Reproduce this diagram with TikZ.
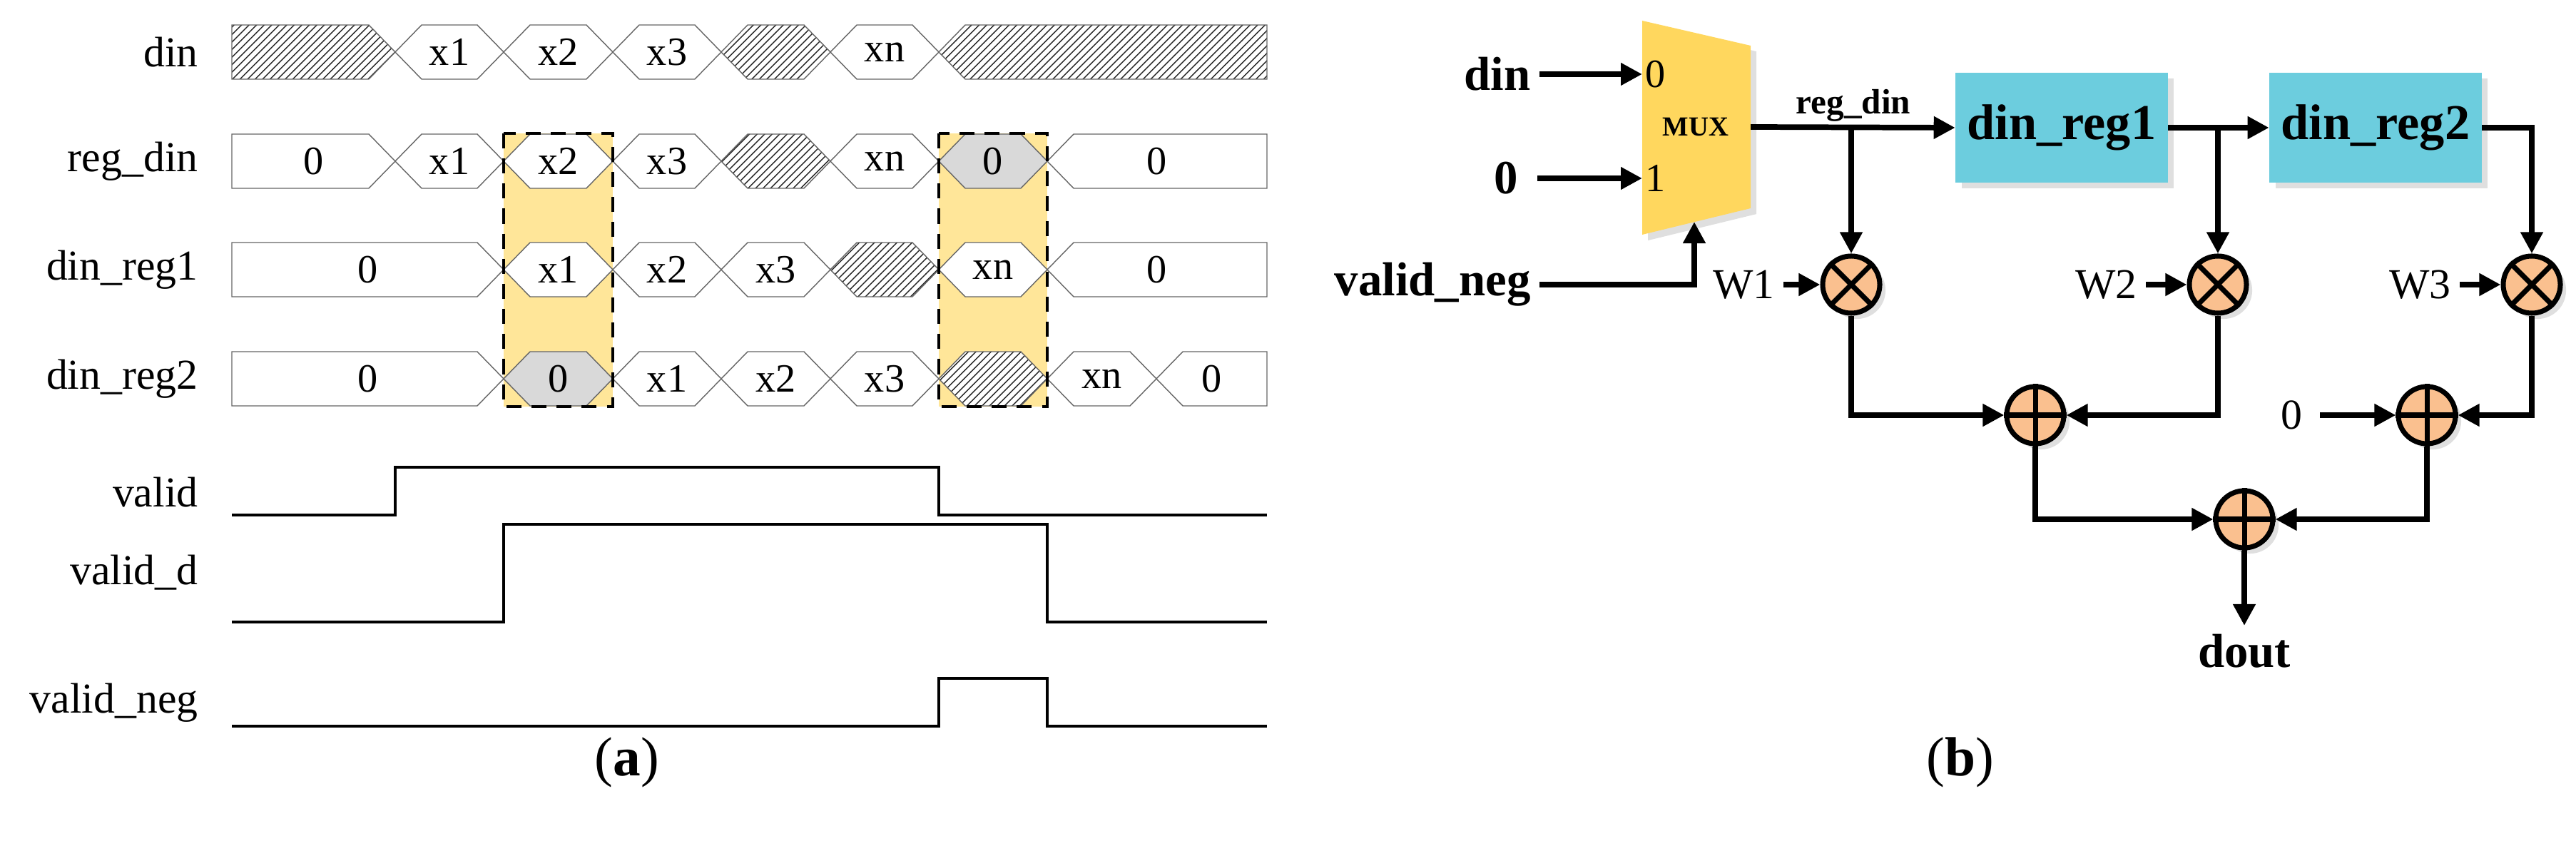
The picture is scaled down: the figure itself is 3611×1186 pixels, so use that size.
\documentclass[tikz,border=0pt]{standalone}
\usepackage{fontspec}
\setmainfont{Liberation Serif}
\usetikzlibrary{positioning,patterns,arrows.meta,shadows}
\definecolor{hl}{RGB}{255,230,153}
\definecolor{muxc}{RGB}{255,215,94}
\definecolor{regc}{RGB}{108,205,222}
\definecolor{opc}{RGB}{250,192,143}
\tikzset{
  sig/.style={font=\fontsize{17}{17}\selectfont, anchor=east},
  txt/.style={font=\fontsize{16}{16}\selectfont},
  cell/.style={draw=black!60, line width=0.4pt, fill=white},
  hatch/.style={draw=black!60, line width=0.4pt, preaction={fill=white},
    pattern=north east lines, pattern color=black!85},
  grey/.style={draw=black!60, line width=0.4pt, fill=black!15},
  wave/.style={line width=1.1pt},
  win/.style={draw, dashed, line width=1.2pt, dash pattern=on 6pt off 4pt},
  arr/.style={line width=2.2pt, -{Triangle[length=3mm,width=3mm]}},
  lbl/.style={font=\bfseries\fontsize{19}{19}\selectfont},
  wl/.style={font=\fontsize{17}{17}\selectfont},
  reg/.style={fill=regc, minimum width=2.97cm, minimum height=1.54cm,
    font=\bfseries\fontsize{20}{20}\selectfont, drop shadow={opacity=0.25}},
  op/.style={circle, draw, line width=2pt, fill=opc, minimum size=0.8cm, inner sep=0pt,
    drop shadow={opacity=0.25}}
}
% waveform cells: row y, left cross, right cross, style, text
\newcommand{\wcell}[5]{%
  \draw[#4] (#2,#1) -- (#2+37,#1-38) -- (#3-37,#1-38) -- (#3,#1)
    -- (#3-37,#1+38) -- (#2+37,#1+38) -- cycle;
  \node[txt] at ({(#2+#3)/2},#1) {#5};}
\newcommand{\lcell}[4]{%
  \draw[#3] (325,#1-38) -- (#2-37,#1-38) -- (#2,#1) -- (#2-37,#1+38) -- (325,#1+38) -- cycle;
  \node[txt] at ({(325+#2)/2},#1) {#4};}
\newcommand{\rcell}[4]{%
  \draw[#3] (1776,#1-38) -- (#2+37,#1-38) -- (#2,#1) -- (#2+37,#1+38) -- (1776,#1+38) -- cycle;
  \node[txt] at ({(1776+#2)/2},#1) {#4};}
\newcommand{\mulx}[1]{\draw[line width=2pt] (#1.45) -- (#1.225) (#1.135) -- (#1.315);}
\newcommand{\addx}[1]{\draw[line width=2pt] (#1.north) -- (#1.south) (#1.east) -- (#1.west);}
\begin{document}
\begin{tikzpicture}[x=0.01cm, y=-0.01cm]
  \useasboundingbox (0,0) rectangle (3611,1186);
  % (a) timing
  \fill[hl] (706,187) rectangle (859,570);
  \fill[hl] (1316,187) rectangle (1468,570);

  \node[sig] (ldin) at (290,73) {din};
  \node[sig] (lreg) at (290,226) {reg\_din};
  \node[sig] (lr1) at (290,378) {din\_reg1};
  \node[sig] (lr2) at (290,531) {din\_reg2};
  \node[sig] (lv) at (290,690) {valid};
  \node[sig] (lvd) at (290,803) {valid\_d};
  \node[sig] (lvn) at (290,985) {valid\_neg};

  \lcell{73}{554}{hatch}{}
  \wcell{73}{554}{706}{cell}{x1}
  \wcell{73}{706}{859}{cell}{x2}
  \wcell{73}{859}{1011}{cell}{x3}
  \wcell{73}{1011}{1164}{hatch}{}
  \wcell{73}{1164}{1316}{cell}{xn}
  \rcell{73}{1316}{hatch}{}

  \lcell{226}{554}{cell}{0}
  \wcell{226}{554}{706}{cell}{x1}
  \wcell{226}{706}{859}{cell}{x2}
  \wcell{226}{859}{1011}{cell}{x3}
  \wcell{226}{1011}{1164}{hatch}{}
  \wcell{226}{1164}{1316}{cell}{xn}
  \wcell{226}{1316}{1468}{grey}{0}
  \rcell{226}{1468}{cell}{0}

  \lcell{378}{706}{cell}{0}
  \wcell{378}{706}{859}{cell}{x1}
  \wcell{378}{859}{1011}{cell}{x2}
  \wcell{378}{1011}{1164}{cell}{x3}
  \wcell{378}{1164}{1316}{hatch}{}
  \wcell{378}{1316}{1468}{cell}{xn}
  \rcell{378}{1468}{cell}{0}

  \lcell{531}{706}{cell}{0}
  \wcell{531}{706}{859}{grey}{0}
  \wcell{531}{859}{1011}{cell}{x1}
  \wcell{531}{1011}{1164}{cell}{x2}
  \wcell{531}{1164}{1316}{cell}{x3}
  \wcell{531}{1316}{1468}{hatch}{}
  \wcell{531}{1468}{1621}{cell}{xn}
  \rcell{531}{1621}{cell}{0}

  \draw[win] (706,187) rectangle (859,570);
  \draw[win] (1316,187) rectangle (1468,570);

  \draw[wave] (325,722) -- (554,722) -- (554,655) -- (1316,655) -- (1316,722) -- (1776,722);
  \draw[wave] (325,872) -- (706,872) -- (706,735) -- (1468,735) -- (1468,872) -- (1776,872);
  \draw[wave] (325,1018) -- (1316,1018) -- (1316,951) -- (1468,951) -- (1468,1018) -- (1776,1018);

  \node[font=\fontsize{22}{22}\selectfont] (capa) at (879,1069) {(\textbf{a})};

  % (b) circuit
  \draw[fill=muxc, draw=none, drop shadow={opacity=0.25}]
    (2302,29) -- (2454,64) -- (2454,292) -- (2302,329) -- cycle;
  \coordinate (in0) at (2302,104);
  \coordinate (in1) at (2302,250);
  \coordinate (out) at (2454,178);
  \coordinate (sel) at (2375,311);
  \node[font=\bfseries\fontsize{11}{11}\selectfont] (mux) at (2377,178) {MUX};
  \node[txt, anchor=west, inner sep=1pt] (s0) at (in0) {0};
  \node[txt, anchor=west, inner sep=1pt] (s1) at (in1) {1};

  \node[lbl, anchor=east] (din) at (2158,104) {din};
  \node[lbl, anchor=east] (zero) at (2140,250) {0};
  \node[lbl, anchor=east] (vneg) at (2158,399) {valid\_neg};
  \draw[arr] (din.east) -- (in0);
  \draw[arr] (zero.east) ++(15,0) coordinate (z0) (z0) -- (in1);
  \draw[arr] (vneg.east) -| (sel);

  \node[reg] (r1) at (2890,179) {din\_reg1};
  \node[reg] (r2) at (3330,179) {din\_reg2};
  \node[font=\bfseries\fontsize{14}{14}\selectfont] (rdin) at (2598,148) {reg\_din};

  \node[op] (m1) at (2595,399) {}; \mulx{m1}
  \node[op] (m2) at (3109,399) {}; \mulx{m2}
  \node[op] (m3) at (3549,399) {}; \mulx{m3}
  \node[op] (a1) at (2853,582) {}; \addx{a1}
  \node[op] (a2) at (3402,582) {}; \addx{a2}
  \node[op] (a3) at (3146,728) {}; \addx{a3}

  \node[wl, anchor=east] (w1) at (2500,399) {W1};
  \node[wl, anchor=east] (w2) at (3008,399) {W2};
  \node[wl, anchor=east] (w3) at (3448,399) {W3};
  \node[wl, anchor=east] (zz) at (3240,582) {0};
  \node[lbl] (dout) at (3146,913) {dout};

  \draw[arr] (out) -- (r1.west);
  \coordinate (j1) at (m1 |- out);
  \draw[arr] (j1) -- (m1.north);
  \draw[arr] (r1.east) -- (r2.west);
  \coordinate (j2) at (m2 |- r1.east);
  \draw[arr] (j2) -- (m2.north);
  \draw[arr] (r2.east) -| (m3.north);

  \draw[arr] (w1.east) -- (m1.west);
  \draw[arr] (w2.east) -- (m2.west);
  \draw[arr] (w3.east) -- (m3.west);
  \draw[arr] (zz.east) ++(12,0) coordinate (z1) (z1) -- (a2.west);

  \draw[arr] (m1.south) |- (a1.west);
  \draw[arr] (m2.south) |- (a1.east);
  \draw[arr] (m3.south) |- (a2.east);
  \draw[arr] (a1.south) |- (a3.west);
  \draw[arr] (a2.south) |- (a3.east);
  \draw[arr] (a3.south) -- (dout.north);

  \node[font=\fontsize{22}{22}\selectfont] (capb) at (2748,1069) {(\textbf{b})};
\end{tikzpicture}
\end{document}
